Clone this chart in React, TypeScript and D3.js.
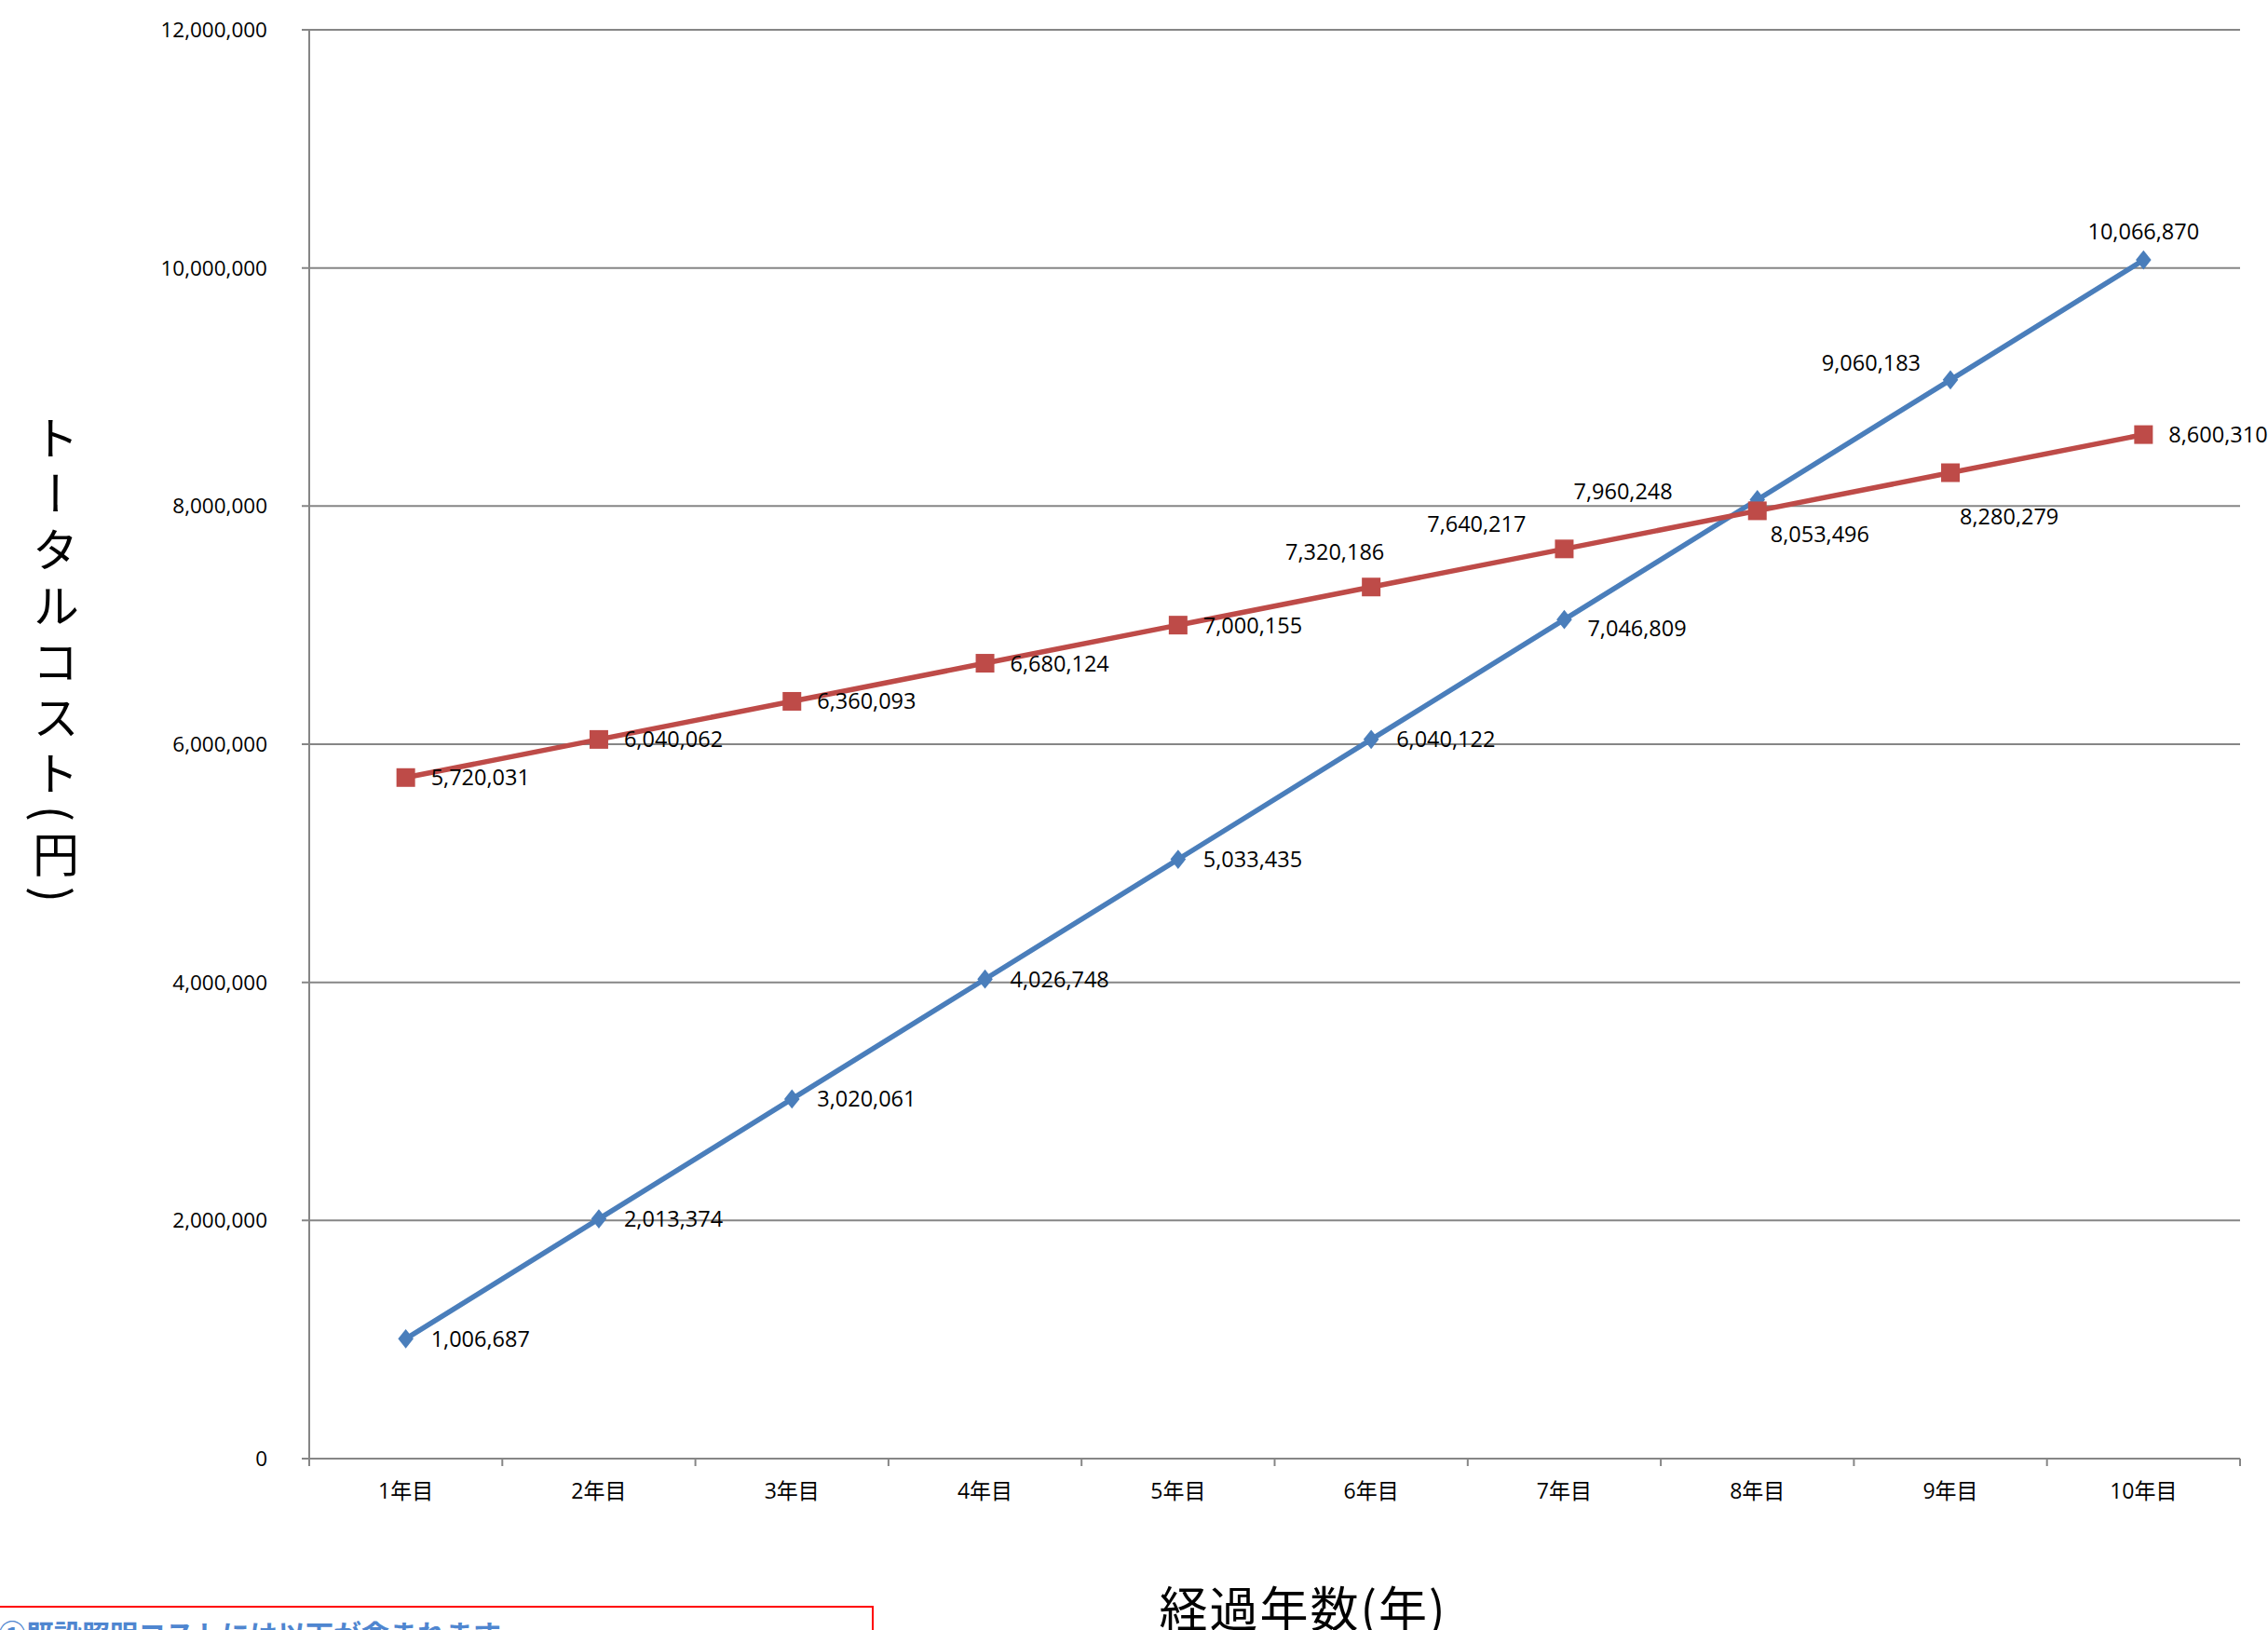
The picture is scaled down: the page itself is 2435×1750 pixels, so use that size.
import React, { useEffect, useRef } from 'react';
import * as d3 from 'd3';

// categories and the two cost series (円)
const categories = ['1年目', '2年目', '3年目', '4年目', '5年目', '6年目', '7年目', '8年目', '9年目', '10年目'];
const existingCost = [1006687, 2013374, 3020061, 4026748, 5033435, 6040122, 7046809, 8053496, 9060183, 10066870];
const ledCost = [5720031, 6040062, 6360093, 6680124, 7000155, 7320186, 7640217, 7960248, 8280279, 8600310];
const yTicks = [0, 2000000, 4000000, 6000000, 8000000, 10000000, 12000000];

// label placement per point: [dx, dy, anchor]
type Place = [number, number, string];
const R: Place = [27, 0, 'start'];
const existingPlace: Place[] = [R, R, R, R, R, R, [25, 9, 'start'], [14, 37, 'start'], [-32, -18, 'end'], [0, -31, 'middle']];
const ledPlace: Place[] = [R, R, R, R, R, [-39, -38, 'middle'], [-41, -27, 'end'], [-91, -21, 'end'], [10, 47, 'start'], R];

const W = 2435;
const H = 1750;
const left = 332, right = 2405, top = 32, bottom = 1566;
const NUM_FONT = '"Open Sans", "Noto Sans CJK JP", sans-serif';
const JP_FONT = '"Noto Sans CJK JP", sans-serif';
const BLUE = '#4a7ebb';
const RED = '#be4b48';
const GRID = '#868686';

// diamond a bit taller than wide, like the spreadsheet marker
const tallDiamond = {
  draw(ctx: d3.Path, size: number) {
    const h = Math.sqrt(size) * 0.62;
    const w = h * 0.8;
    ctx.moveTo(0, -h);
    ctx.lineTo(w, 0);
    ctx.lineTo(0, h);
    ctx.lineTo(-w, 0);
    ctx.closePath();
  }
};

export default function App() {
  const ref = useRef<SVGSVGElement>(null);

  useEffect(() => {
    if (!ref.current) return;
    const svg = d3.select(ref.current);
    svg.selectAll('*').remove();

    const x = d3.scaleBand<string>().domain(categories).range([left, right]);
    const y = d3.scaleLinear().domain([0, 12000000]).range([bottom, top]);
    const cx = (i: number) => (x(categories[i]) ?? 0) + x.bandwidth() / 2;
    const fmt = d3.format(',');

    // gridlines + y ticks
    const g = svg.append('g');
    g.selectAll('line.grid')
      .data(yTicks)
      .join('line')
      .attr('x1', left - 8).attr('x2', right)
      .attr('y1', d => y(d)).attr('y2', d => y(d))
      .attr('stroke', GRID).attr('stroke-width', 2);

    g.selectAll('text.ytick')
      .data(yTicks)
      .join('text')
      .attr('x', 287).attr('y', d => y(d))
      .attr('dy', '0.36em')
      .attr('text-anchor', 'end')
      .attr('font-family', NUM_FONT).attr('font-size', 22.5)
      .attr('fill', '#000')
      .text(d => fmt(d));

    // y axis line
    g.append('line')
      .attr('x1', left).attr('x2', left).attr('y1', top).attr('y2', bottom)
      .attr('stroke', GRID).attr('stroke-width', 2);

    // x tick marks at band boundaries
    const bounds = categories.map(c => x(c) ?? 0).concat([right]);
    g.selectAll('line.xtick')
      .data(bounds)
      .join('line')
      .attr('x1', d => d).attr('x2', d => d)
      .attr('y1', bottom).attr('y2', bottom + 8)
      .attr('stroke', GRID).attr('stroke-width', 2);

    g.selectAll('text.xlab')
      .data(categories)
      .join('text')
      .attr('x', (d, i) => cx(i)).attr('y', 1609)
      .attr('text-anchor', 'middle')
      .attr('font-family', NUM_FONT).attr('font-size', 23)
      .text(d => d);

    const line = d3.line<number>().x((d, i) => cx(i)).y(d => y(d));

    // blue series
    svg.append('path')
      .datum(existingCost)
      .attr('d', line)
      .attr('fill', 'none').attr('stroke', BLUE).attr('stroke-width', 5.5)
      .attr('stroke-linejoin', 'round');
    svg.append('g')
      .selectAll('path')
      .data(existingCost)
      .join('path')
      .attr('transform', (d, i) => `translate(${cx(i)},${y(d)})`)
      .attr('d', d3.symbol().type(tallDiamond).size(280)())
      .attr('fill', BLUE);

    // red series
    svg.append('path')
      .datum(ledCost)
      .attr('d', line)
      .attr('fill', 'none').attr('stroke', RED).attr('stroke-width', 5.5)
      .attr('stroke-linejoin', 'round');
    svg.append('g')
      .selectAll('rect')
      .data(ledCost)
      .join('rect')
      .attr('x', (d, i) => cx(i) - 10).attr('y', d => y(d) - 10)
      .attr('width', 20).attr('height', 20)
      .attr('fill', RED);

    // data labels
    const labels = (vals: number[], place: Place[]) => {
      svg.append('g')
        .selectAll('text')
        .data(vals)
        .join('text')
        .attr('x', (d, i) => cx(i) + place[i][0])
        .attr('y', (d, i) => y(d) + place[i][1])
        .attr('dy', '0.36em')
        .attr('text-anchor', (d, i) => place[i][2])
        .attr('font-family', NUM_FONT).attr('font-size', 23.5)
        .attr('fill', '#000')
        .text(d => fmt(d));
    };
    labels(existingCost, existingPlace);
    labels(ledCost, ledPlace);

    // axis titles
    svg.append('text')
      .attr('x', 1399).attr('y', 1747)
      .attr('text-anchor', 'middle')
      .attr('font-family', JP_FONT).attr('font-size', 52)
      .attr('letter-spacing', 2)
      .text('経過年数(年)');

    svg.append('text')
      .attr('x', 60).attr('y', 712)
      .attr('text-anchor', 'middle')
      .attr('font-family', JP_FONT).attr('font-size', 50)
      .attr('letter-spacing', 10)
      .style('writing-mode', 'vertical-rl')
      .text('トータルコスト(円)');

    // note box, cut at the bottom of the picture
    svg.append('rect')
      .attr('x', -5).attr('y', 1725).attr('width', 942).attr('height', 100)
      .attr('fill', 'none').attr('stroke', '#ff0000').attr('stroke-width', 2);
    svg.append('text')
      .attr('x', -2).attr('y', 1766)
      .attr('font-family', JP_FONT).attr('font-size', 30).attr('font-weight', 'bold')
      .attr('fill', '#4f86d0')
      .text('①既設照明コストには以下が含まれます');
  }, []);

  return (
    <svg
      ref={ref}
      width={W}
      height={H}
      style={{ position: 'absolute', left: 0, top: 0, background: '#fff' }}
    />
  );
}
